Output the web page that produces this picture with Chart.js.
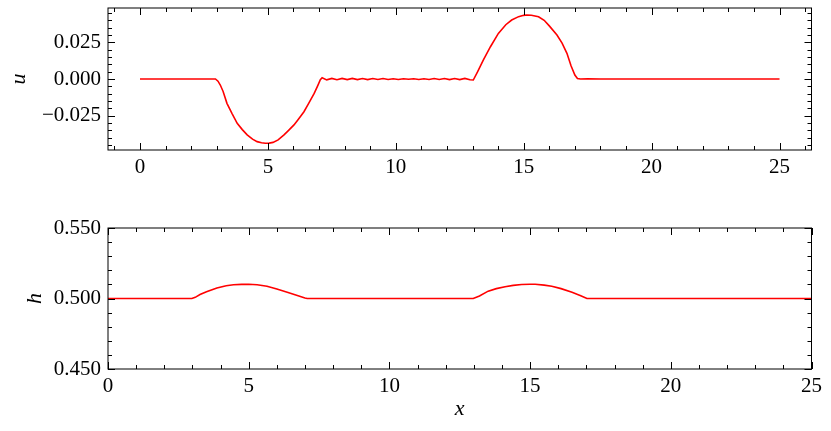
<!DOCTYPE html>
<html>
<head>
<meta charset="utf-8">
<script src="https://cdn.jsdelivr.net/npm/chart.js@4.4.0/dist/chart.umd.min.js"></script>
<style>
  body { margin: 0; background: #fff; }
  canvas { position: absolute; left: 0; }
  #top { top: 0; }
  #bot { top: 200px; }
</style>
</head>
<body>
<canvas id="top" width="831" height="200"></canvas>
<canvas id="bot" width="831" height="231"></canvas>
<script>
// velocity u along x
const xU = [0, 0.5, 1, 1.5, 2, 2.5, 2.8, 2.95, 3.05, 3.14, 3.25, 3.4, 3.6, 3.8, 4.0, 4.19, 4.4, 4.58, 4.75, 4.9,
  5.05, 5.2, 5.4, 5.63, 5.8, 6.02, 6.2, 6.41, 6.6, 6.81, 6.95, 7.05, 7.12,
  7.3, 7.5, 7.7, 7.9, 8.1, 8.3, 8.5, 8.7, 8.9, 9.1, 9.3, 9.5, 9.7, 9.9, 10.1, 10.3, 10.5, 10.7, 10.9,
  11.1, 11.3, 11.5, 11.7, 11.9, 12.1, 12.3, 12.5, 12.7, 12.9, 13.03,
  13.2, 13.42, 13.7, 14.01, 14.3, 14.53, 14.8, 15.0, 15.12, 15.3, 15.58, 15.8, 16.0, 16.3, 16.5, 16.69, 16.85,
  17.0, 17.1, 17.22, 17.5, 18, 19, 20, 21, 22, 23, 24, 25];
const uVals = [0, 0, 0, 0, 0, 0, 0, 0, -0.0015, -0.0041, -0.0085, -0.0166, -0.0236, -0.0302, -0.0345, -0.0381, -0.041, -0.0427, -0.0435, -0.0438,
  -0.0437, -0.0432, -0.0415, -0.0381, -0.0352, -0.0313, -0.0272, -0.0223, -0.0165, -0.0098, -0.0045, -0.0005, 0.0008,
  -0.0006, 0.0004, -0.0005, 0.0004, -0.0004, 0.0004, -0.0004, 0.0003, -0.0004, 0.0003, -0.0003, 0.0003, -0.0003, 0.0002, -0.0003, 0.0002, -0.0002, 0.0002, -0.0003,
  0.0002, -0.0003, 0.0003, -0.0003, 0.0003, -0.0004, 0.0003, -0.0004, 0.0004, -0.0005, -0.0007,
  0.005, 0.0129, 0.022, 0.0311, 0.037, 0.0402, 0.0425, 0.0434, 0.0436, 0.0435, 0.0424, 0.04, 0.0362, 0.03, 0.0245, 0.0175, 0.009,
  0.0027, 0.0003, 0, 0.0001, 0, 0, 0, 0, 0, 0, 0, 0];

// depth h along x
const xH = [0, 1, 2, 2.98, 3.1, 3.27, 3.5, 3.87, 4.2, 4.46, 4.75, 5.0, 5.3, 5.65, 6.0, 6.37, 6.7, 7.0, 7.08,
  8, 9, 10, 11, 12, 12.98, 13.2, 13.51, 13.8, 14.11, 14.4, 14.7, 15.0, 15.18, 15.5, 15.77, 16.1, 16.49, 16.8, 17.02,
  18, 20, 22, 25];
const hVals = [0.5, 0.5, 0.5, 0.5, 0.5008, 0.5028, 0.5048, 0.5075, 0.509, 0.5097, 0.51, 0.5101, 0.5097, 0.5087, 0.5068, 0.5045, 0.5023, 0.5003, 0.5,
  0.5, 0.5, 0.5, 0.5, 0.5, 0.5, 0.5018, 0.5052, 0.507, 0.5083, 0.5093, 0.5099, 0.5101, 0.5101, 0.5095, 0.5087, 0.507, 0.5045, 0.502, 0.5,
  0.5, 0.5, 0.5, 0.5];

const xTicks = [0, 5, 10, 15, 20, 25];
const uTicks = [-0.025, 0, 0.025];
const hTicks = [0.45, 0.5, 0.55];

const font = { family: "'Liberation Serif', serif", size: 21 };

// inward ticks on all four sides plus the frame
const inTicks = {
  id: 'inTicks',
  afterDraw(chart, args, opts) {
    const ctx = chart.ctx, a = chart.chartArea;
    const sx = chart.scales.x, sy = chart.scales.y;
    ctx.save();
    ctx.strokeStyle = '#000';
    ctx.lineWidth = 1;
    ctx.strokeRect(a.left, a.top, a.right - a.left, a.bottom - a.top);
    function vals(scale, step) {
      const out = [];
      const k0 = Math.ceil(scale.min / step - 1e-6);
      for (let k = k0; k * step <= scale.max + step * 1e-6; k++) out.push(k * step);
      return out;
    }
    function xmarks(list, len) {
      list.forEach(v => {
        const p = Math.round(sx.getPixelForValue(v)) + 0.5;
        ctx.beginPath();
        ctx.moveTo(p, a.bottom); ctx.lineTo(p, a.bottom - len);
        ctx.moveTo(p, a.top); ctx.lineTo(p, a.top + len);
        ctx.stroke();
      });
    }
    function ymarks(list, len) {
      list.forEach(v => {
        const p = Math.round(sy.getPixelForValue(v)) + 0.5;
        ctx.beginPath();
        ctx.moveTo(a.left, p); ctx.lineTo(a.left + len, p);
        ctx.moveTo(a.right, p); ctx.lineTo(a.right - len, p);
        ctx.stroke();
      });
    }
    xmarks(vals(sx, opts.xMinor), 4);
    ymarks(vals(sy, opts.yMinor), 4);
    xmarks(xTicks, 7);
    ymarks(opts.yMajor, 7);
    ctx.restore();
  }
};

function fmt(v) {
  return (v < 0 ? '\u2212' : '') + Math.abs(v).toFixed(3);
}

function makeChart(id, xs, ys, cfg) {
  return new Chart(document.getElementById(id), {
    type: 'line',
    data: {
      datasets: [{
        data: xs.map((x, i) => ({ x: x, y: ys[i] })),
        borderColor: '#ff0000',
        borderWidth: 1.6,
        pointRadius: 0,
        tension: 0,
        fill: false
      }]
    },
    options: {
      responsive: false,
      animation: false,
      layout: { padding: { top: cfg.padTop, right: 19.5, left: 0, bottom: 0 } },
      plugins: {
        legend: { display: false },
        tooltip: { enabled: false },
        inTicks: { xMinor: 1, yMinor: cfg.yMinor, yMajor: cfg.yTicks }
      },
      scales: {
        x: {
          type: 'linear',
          min: cfg.xMin, max: cfg.xMax,
          grid: { display: false, drawTicks: false },
          border: { display: false },
          ticks: { font: font, color: '#000', padding: 5, maxRotation: 0 },
          afterBuildTicks: s => { s.ticks = xTicks.map(v => ({ value: v })); },
          afterFit: s => { s.height = cfg.xHeight; },
          title: cfg.xTitle ? {
            display: true, text: cfg.xTitle, color: '#000',
            font: { family: font.family, size: 22, style: 'italic' },
            padding: { top: 0, bottom: 9 }
          } : { display: false }
        },
        y: {
          type: 'linear',
          min: cfg.yMin, max: cfg.yMax,
          grid: { display: false, drawTicks: false },
          border: { display: false },
          ticks: { font: font, color: '#000', padding: 7, callback: fmt },
          afterBuildTicks: s => { s.ticks = cfg.yTicks.map(v => ({ value: v })); },
          afterFit: s => { s.width = 108; s.paddingTop = 0; s.paddingBottom = 0; },
          title: {
            display: true, text: cfg.yTitle, color: '#000',
            font: { family: font.family, size: 22, style: 'italic' },
            padding: { top: cfg.yTitlePad, bottom: 0 }
          }
        }
      }
    },
    plugins: [inTicks]
  });
}

makeChart('top', xU, uVals, {
  padTop: 8, xMin: -1.25, xMax: 26.25, xHeight: 50,
  yMin: -0.0484, yMax: 0.0484, yTicks: uTicks, yMinor: 0.005,
  yTitle: 'u', yTitlePad: 6
});

makeChart('bot', xH, hVals, {
  padTop: 28, xMin: 0, xMax: 25, xHeight: 62, xTitle: 'x',
  yMin: 0.45, yMax: 0.55, yTicks: hTicks, yMinor: 0.01,
  yTitle: 'h', yTitlePad: 22
});
</script>
</body>
</html>
